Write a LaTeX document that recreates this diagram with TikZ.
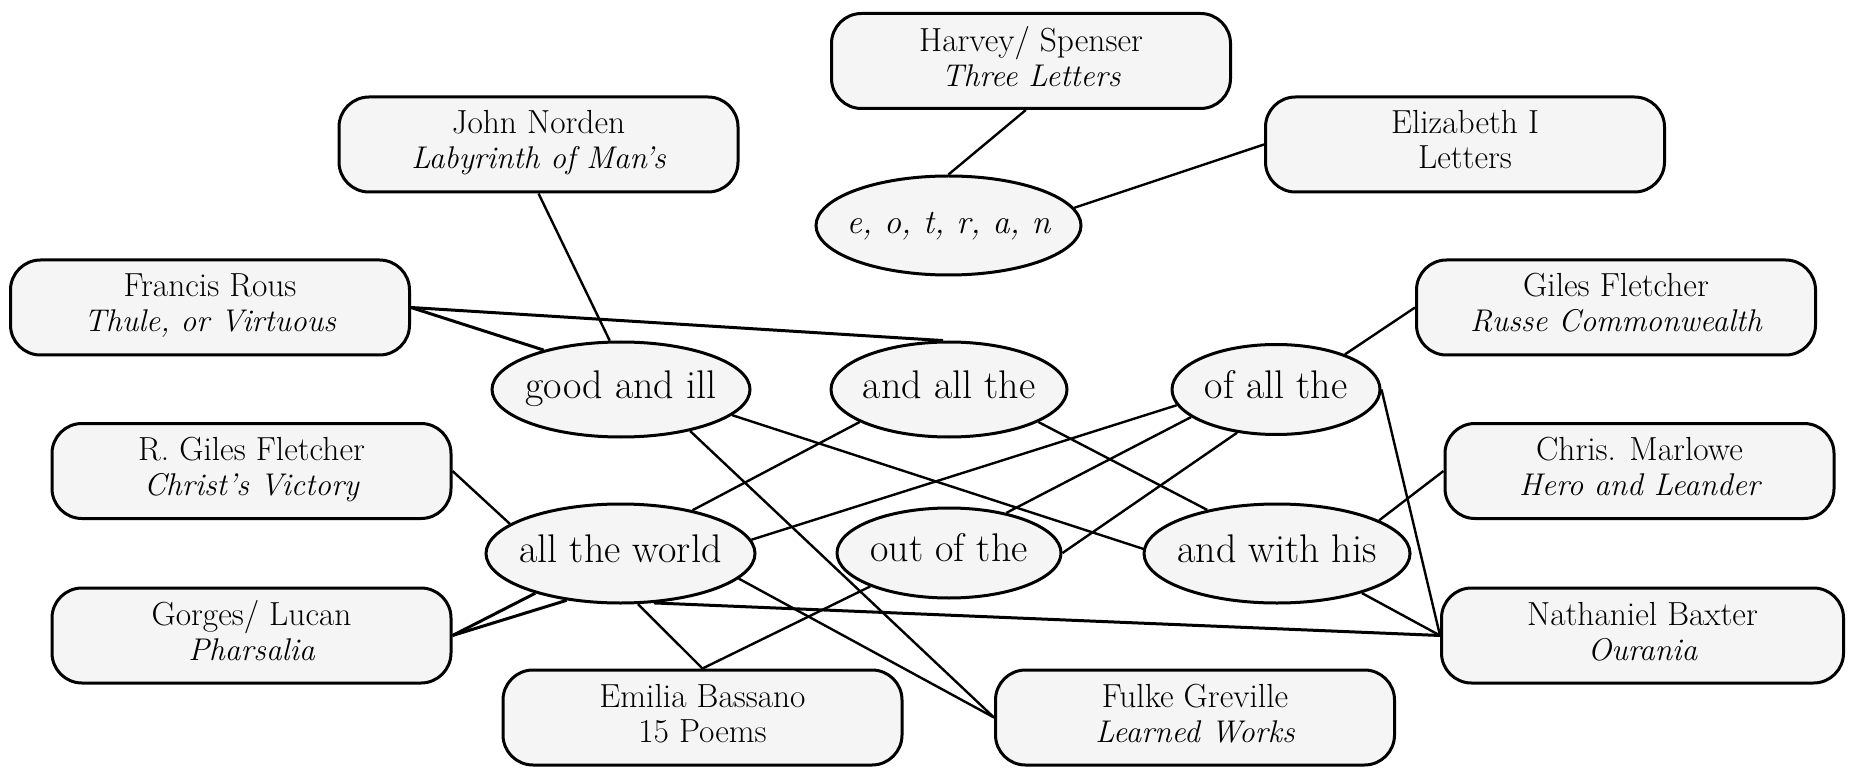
\documentclass[tikz,border=0pt]{standalone}
\usepackage{fontspec}
\usetikzlibrary{shapes.geometric}
\definecolor{nodefill}{RGB}{245,245,245}
\newcommand{\twolines}[2]{\rule{0pt}{12pt}#1\\#2\rule[-5pt]{0pt}{5pt}}
\newcommand{\wtitle}[1]{{\fontsize{15.7}{17.5}\selectfont\itshape #1}}
\newcommand{\phr}[1]{\makebox[0pt]{\rule[-7.5pt]{0pt}{23.5pt}#1}}
\begin{document}
\begin{tikzpicture}[x=0.5pt,y=-0.5pt,
  box/.style={draw, line width=1.5pt, fill=nodefill, rounded corners=15pt, minimum width=199.5pt, minimum height=47.5pt, inner sep=0pt, align=center, font=\fontsize{16.7}{17.5}\selectfont},
  phrase/.style={draw, ellipse, line width=1.5pt, fill=nodefill, inner sep=0pt, font=\fontsize{20}{24}\selectfont},
  link/.style={line width=1.2pt},
  heavylink/.style={line width=1.5pt}]
\useasboundingbox (0,0) rectangle (1856,780);
% boxes
\node[box] (harvey) at (1031,61) {\twolines{Harvey/ Spenser}{\wtitle{Three Letters}}};
\node[box] (norden) at (538.5,144.5) {\twolines{John Norden}{\wtitle{Labyrinth of Man's}}};
\node[box] (eliz) at (1465,144.5) {\twolines{Elizabeth I}{Letters}};
\node[box] (rous) at (210,307.5) {\twolines{Francis Rous}{\wtitle{Thule, or Virtuous}}};
\node[box] (giles) at (1616,307.5) {\twolines{Giles Fletcher}{\wtitle{Russe Commonwealth}}};
\node[box] (rgiles) at (251.5,471) {\twolines{R. Giles Fletcher}{\wtitle{Christ's Victory}}};
\node[box, minimum width=194.5pt] (marlowe) at (1639.5,471) {\twolines{Chris. Marlowe}{\wtitle{Hero and Leander}}};
\node[box] (gorges) at (251.5,635.5) {\twolines{Gorges/ Lucan}{\wtitle{Pharsalia}}};
\node[box, minimum width=201pt] (baxter) at (1642.5,635.5) {\twolines{Nathaniel Baxter}{\wtitle{Ourania}}};
\node[box] (bassano) at (702.5,717.5) {\twolines{Emilia Bassano}{15 Poems}};
\node[box] (greville) at (1195,717.5) {\twolines{Fulke Greville}{\wtitle{Learned Works}}};
% phrases
\node[phrase, minimum width=132.5pt, minimum height=49.5pt, font=\fontsize{17}{20}\selectfont] (letters) at (948.5,225.5) {\phr{\itshape e, o, t, r, a, n}};
\node[phrase, minimum width=129pt, minimum height=47.5pt] (good) at (621,389.5) {\phr{good and ill}};
\node[phrase, minimum width=118pt, minimum height=47.5pt] (andall) at (949,389.5) {\phr{and all the}};
\node[phrase, minimum width=104pt, minimum height=45pt] (ofall) at (1276,389.5) {\phr{of all the}};
\node[phrase, minimum width=134.5pt, minimum height=49.5pt] (world) at (620.5,553.5) {\phr{all the world}};
\node[phrase, minimum width=112pt, minimum height=45pt] (outof) at (949,553) {\phr{out of the}};
\node[phrase, minimum width=133pt, minimum height=49.5pt] (withhis) at (1277,553.5) {\phr{and with his}};
% links
\draw[link] (harvey.-96) -- (letters.north);
\draw[link] (eliz.west) -- (letters.8);
\draw[link] (norden.south) -- (good.103);
\draw[heavylink] (rous.east) -- (good.153);
\draw[heavylink] (rous.east) -- (andall.97);
\draw[link] (giles.west) -- (ofall.27);
\draw[link] (good.-13) -- (withhis.178);
\draw[link] (good.-31) -- (greville.west);
\draw[link] (andall.200) -- (world.31);
\draw[link] (andall.-20) -- (withhis.148);
\draw[link] (ofall.189) -- (world.6);
\draw[link] (ofall.198) -- (outof.35);
\draw[link] (ofall.228) -- (outof.east);
\draw[link] (ofall.east) -- (baxter.west);
\draw[link] (rgiles.east) -- (world.165);
\draw[heavylink] (gorges.east) -- (world.205);
\draw[heavylink] (gorges.east) -- (world.221);
\draw[heavylink] (world.-56) -- (baxter.west);
\draw[link] (world.-71) -- (bassano.north);
\draw[link] (outof.203) -- (bassano.north);
\draw[link] (world.-12) -- (greville.west);
\draw[link] (withhis.18) -- (marlowe.west);
\draw[link] (withhis.-25) -- (baxter.west);
\end{tikzpicture}
\end{document}
